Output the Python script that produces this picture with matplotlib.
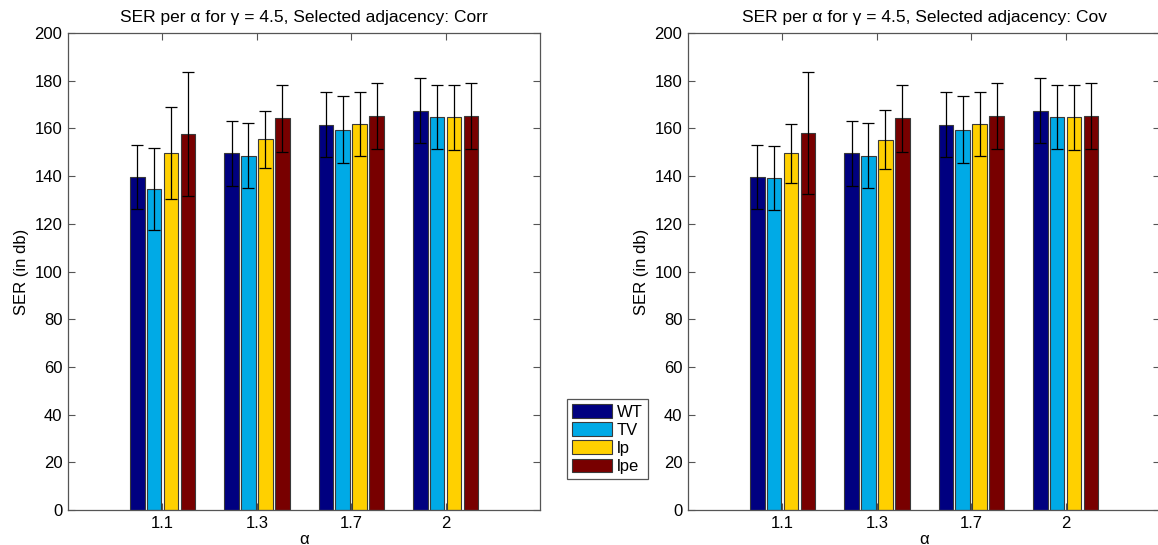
import numpy as np
import matplotlib
matplotlib.use('Agg')
import matplotlib.pyplot as plt

plt.rcParams['font.family'] = ['Liberation Sans', 'DejaVu Sans']

# ── DỮ LIỆU ────────────────────────────────────────────────────────────────
alphas  = ['1.1', '1.3', '1.7', '2']
methods = ['WT', 'TV', 'lp', 'lpe']
colors  = ['#000080', '#00AAE6', '#FFD000', '#780000']

# Corr
corr_wt   = [139.6, 149.6, 161.5, 167.5]
corr_tv   = [134.6, 148.6, 159.5, 164.8]
corr_lp   = [149.5, 155.5, 161.8, 164.6]
corr_lpe  = [157.6, 164.2, 165.2, 165.2]
corr_wt_e  = [13.5, 13.7, 13.7, 13.8]
corr_tv_e  = [17.0, 13.7, 13.9, 13.4]
corr_lp_e  = [19.3, 12.0, 13.3, 13.5]
corr_lpe_e = [26.0, 13.9, 14.0, 14.0]

# Cov
cov_wt   = [139.6, 149.6, 161.5, 167.5]
cov_tv   = [139.2, 148.6, 159.5, 164.8]
cov_lp   = [149.5, 155.3, 161.8, 164.6]
cov_lpe  = [158.2, 164.2, 165.2, 165.2]
cov_wt_e  = [13.5, 13.7, 13.7, 13.8]
cov_tv_e  = [13.5, 13.7, 13.9, 13.4]
cov_lp_e  = [12.3, 12.3, 13.3, 13.5]
cov_lpe_e = [25.6, 13.9, 14.0, 14.0]

fig = plt.figure(figsize=(11.58, 5.45), dpi=100)
ax1 = fig.add_axes([68/1158, 1-510/545, 472/1158, 477/545])
ax2 = fig.add_axes([688/1158, 1-510/545, 472/1158, 477/545])

offsets = [-0.267, -0.09, 0.09, 0.27]
width = 0.155
x = np.arange(1, len(alphas)+1)

def draw(ax, vals, errs, name):
    bars = []
    for k in range(4):
        b = ax.bar(x + offsets[k], vals[k], width, color=colors[k],
                   edgecolor='#3a3a3a', linewidth=0.8, label=methods[k], zorder=2)
        ax.errorbar(x + offsets[k], vals[k], yerr=errs[k], fmt='none',
                    ecolor='black', elinewidth=0.9, capsize=4, capthick=0.9, zorder=3)
        bars.append(b)
    ax.set_xlim(0, 5)
    ax.set_ylim(0, 200)
    ax.set_yticks(np.arange(0, 201, 20))
    ax.set_xticks(x)
    ax.set_xticklabels(alphas)
    ax.tick_params(direction='in', top=True, right=True, length=5,
                   labelsize=12, color='#555555', width=0.8, pad=4)
    for s in ax.spines.values():
        s.set_color('#555555')
        s.set_linewidth(0.9)
    ax.set_ylabel('SER (in db)', fontsize=12, labelpad=4)
    ax.set_xlabel('\u03b1', fontsize=12, labelpad=1)
    ax.set_title('SER per \u03b1 for \u03b3 = 4.5, Selected adjacency: ' + name,
                 fontsize=12.5, pad=8)
    return bars

bars = draw(ax1, [corr_wt, corr_tv, corr_lp, corr_lpe],
            [corr_wt_e, corr_tv_e, corr_lp_e, corr_lpe_e], 'Corr')
draw(ax2, [cov_wt, cov_tv, cov_lp, cov_lpe],
     [cov_wt_e, cov_tv_e, cov_lp_e, cov_lpe_e], 'Cov')

leg = fig.legend(bars, methods, loc='upper left',
                 bbox_to_anchor=(567/1158, 1-399/545), bbox_transform=fig.transFigure,
                 borderaxespad=0, fancybox=False, framealpha=1, edgecolor='#555555',
                 fontsize=12, handlelength=2.4, handleheight=0.9, labelspacing=0.15,
                 handletextpad=0.3, borderpad=0.3)
leg.get_frame().set_linewidth(0.9)

plt.savefig('out.png', dpi=100)
plt.close()
